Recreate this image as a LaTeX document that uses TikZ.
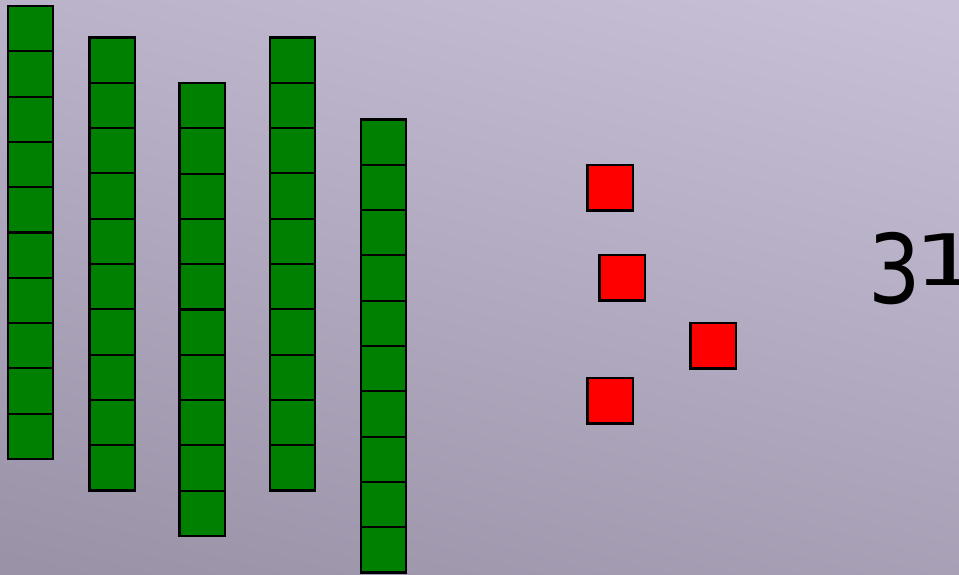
\documentclass[tikz,border=0pt]{standalone}
\usepackage{fontspec}
\setmainfont{DejaVu Sans}
\begin{document}
\begin{tikzpicture}[x=1pt,y=-1pt,
  gsq/.style={draw=black,fill=green!50!black,line width=2.1pt,minimum size=45.3pt,inner sep=0pt,outer sep=0pt,anchor=north west},
  rsq/.style={draw=black,fill=red,line width=2.1pt,minimum size=45.5pt,inner sep=0pt,outer sep=0pt,anchor=north west}]
\definecolor{bgtop}{HTML}{C8C0D7}
\definecolor{bgbot}{HTML}{9A92A7}
\useasboundingbox (0,0) rectangle (959,574);
\shade[top color=bgtop,bottom color=bgbot,shading angle=-15] (-60,-60) rectangle (1019,634);
\foreach \c/\x/\y in {1/8/6,2/89.5/37.5,3/179.5/83,4/270/37.5,5/361/119.5}{
  \foreach \i in {0,...,9}{
    \node[gsq] (c\c-\i) at (\x,\y+45.3*\i) {};
  }
}
\node[rsq] (r1) at (587.5,165) {};
\node[rsq] (r2) at (599.5,255) {};
\node[rsq] (r3) at (690.5,323) {};
\node[rsq] (r4) at (587.5,378) {};
\node[anchor=base west,inner sep=0pt,font=\fontsize{96}{96}\selectfont] (n3) at (868.5,303) {\scalebox{0.86}[1]{3}};
\node[anchor=base west,inner sep=0pt,font=\fontsize{71}{71}\selectfont] (n1) at (913,285) {\scalebox{1.5}[1]{1}};
\end{tikzpicture}
\end{document}
